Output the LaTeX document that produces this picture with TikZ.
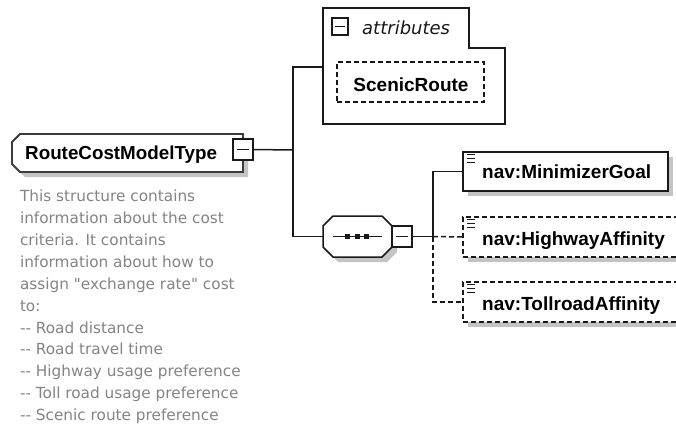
\documentclass[tikz,border=0pt]{standalone}
\usepackage{fontspec}
\usetikzlibrary{calc}
\newfontfamily\lblfont{Liberation Sans}
\newfontfamily\dscfont{DejaVu Sans}
\definecolor{shd}{RGB}{196,196,196}
\definecolor{dsc}{RGB}{132,132,132}
\definecolor{ln}{RGB}{25,25,25}
\definecolor{mainln}{RGB}{60,60,60}
\begin{document}
\begin{tikzpicture}[x=1pt,y=-1pt,
  hold/.style={inner sep=0pt,outer sep=0pt,anchor=north west},
  box/.style={draw=ln,line width=1.5pt,fill=white,inner sep=0pt,outer sep=0pt,anchor=north west},
  lbl/.style={font=\lblfont\bfseries\fontsize{19}{22}\selectfont,inner sep=0pt,anchor=base west,text=black},
  conn/.style={draw=ln,line width=1.5pt},
  dsh/.style={dash pattern=on 5pt off 3pt},
  minusbox/.style={draw=ln,line width=1.3pt,fill=white,inner sep=0pt,outer sep=0pt,anchor=north west},
  shadowfill/.style={fill=shd,draw=none}
]
\useasboundingbox (0,0) rectangle (676,428);
\clip (0,0) rectangle (676,428);
\fill[white] (0,0) rectangle (676,428);

% ---------- shadows ----------
\fill[shadowfill,shift={(5,5)}] (20,134) -- (243,134) -- (243,172) -- (20,172) -- (12,164) -- (12,142) -- cycle;
\fill[shadowfill] (342,67) rectangle (489,107);
\fill[shadowfill,shift={(5,5)}] (333,216) -- (382,216) -- (392,226) -- (392,247) -- (382,257) -- (333,257) -- (323,247) -- (323,226) -- cycle;
\fill[shadowfill] (468,157) rectangle (673,196);
\fill[shadowfill] (468,222) rectangle (700,262);
\fill[shadowfill] (468,287) rectangle (700,327);

% ---------- main type ----------
\node[hold,minimum width=231pt,minimum height=38pt] (rcm) at (12,134) {};
\filldraw[fill=white,draw=mainln,line width=1.9pt] (20,134) -- (243,134) -- (243,172) -- (20,172) -- (12,164) -- (12,142) -- cycle;
\node[lbl,font=\lblfont\bfseries\fontsize{18.8}{22}\selectfont] (rcmt) at (25,159) {RouteCostModelType};
\node[minusbox,minimum width=20pt,minimum height=21pt] (m1) at (233,139) {};
\draw[line width=1.3pt,draw=ln] ($(m1.west)+(4,0)$) -- ($(m1.east)+(-4,0)$);

% ---------- description ----------
\node[hold,align=left,text=dsc,font=\dscfont\fontsize{15.3}{21.9}\selectfont] (desc) at (20,190) {This structure contains\\
information about the cost\\
criteria. It contains\\
information about how to\\
assign "exchange rate" cost\\
to:\\
-{}- Road distance\\
-{}- Road travel time\\
-{}- Highway usage preference\\
-{}- Toll road usage preference\\
-{}- Scenic route preference};

% ---------- attributes ----------
\node[hold,minimum width=182pt,minimum height=116pt] (attr) at (323,8) {};
\filldraw[fill=white,draw=ln,line width=1.5pt] (323,8) -- (469,8) -- (469,48) -- (505,48) -- (505,124) -- (323,124) -- cycle;
\node[minusbox,minimum width=16pt,minimum height=17pt] (m3) at (332,18) {};
\draw[line width=1.3pt,draw=ln] ($(m3.west)+(3,0)$) -- ($(m3.east)+(-3,0)$);
\node[inner sep=0pt,anchor=base west,font=\dscfont\itshape\fontsize{18}{22}\selectfont,text=ln] (attrt) at (362,35) {attributes};
\node[box,dsh,minimum width=147pt,minimum height=40pt] (sr) at (337,62) {};
\node[lbl,anchor=base] (srt) at (411,91) {ScenicRoute};

% ---------- sequence compositor ----------
\node[hold,minimum width=69pt,minimum height=41pt] (seq) at (323,216) {};
\filldraw[fill=white,draw=ln,line width=1.5pt] (333,216) -- (382,216) -- (392,226) -- (392,247) -- (382,257) -- (333,257) -- (323,247) -- (323,226) -- cycle;
\draw[line width=1.5pt,draw=ln] (333,236.5) -- (382,236.5);
\fill[ln] (345,234) rectangle (350,239);
\fill[ln] (354.5,234) rectangle (359.5,239);
\fill[ln] (364,234) rectangle (369,239);
\node[minusbox,minimum width=20pt,minimum height=21pt] (m2) at (392,226) {};
\draw[line width=1.3pt,draw=ln] ($(m2.west)+(4,0)$) -- ($(m2.east)+(-4,0)$);

% ---------- child elements ----------
\node[box,minimum width=205pt,minimum height=39pt] (mg) at (463,152) {};
\node[lbl] (mgt) at (482,178) {nav:MinimizerGoal};
\node[box,dsh,minimum width=240pt,minimum height=40pt] (ha) at (463,217) {};
\node[lbl] (hat) at (482,245) {nav:HighwayAffinity};
\node[box,dsh,minimum width=240pt,minimum height=40pt] (ta) at (463,282) {};
\node[lbl] (tat) at (482,310) {nav:TollroadAffinity};
\foreach \yy in {152,217,282}{
  \draw[line width=1.2pt,draw=ln] (467,\yy+2.5) -- (475,\yy+2.5);
  \draw[line width=1.2pt,draw=ln] (467,\yy+6.5) -- (475,\yy+6.5);
  \draw[line width=1.2pt,draw=ln] (467,\yy+10.5) -- (475,\yy+10.5);
}

% ---------- connectors ----------
\coordinate (j1) at (293,150);
\coordinate (aIn) at (323,67);
\coordinate (j2) at (433,236.5);
\draw[conn] (m1.east) -- (j1);
\draw[conn] (aIn) -| (j1) |- (seq.west);
\draw[conn] (m2.east) -- (j2) |- (mg.west);
\draw[conn,dsh] (j2) -- (ha.west);
\draw[conn,dsh] (j2) |- (ta.west);
\end{tikzpicture}
\end{document}
